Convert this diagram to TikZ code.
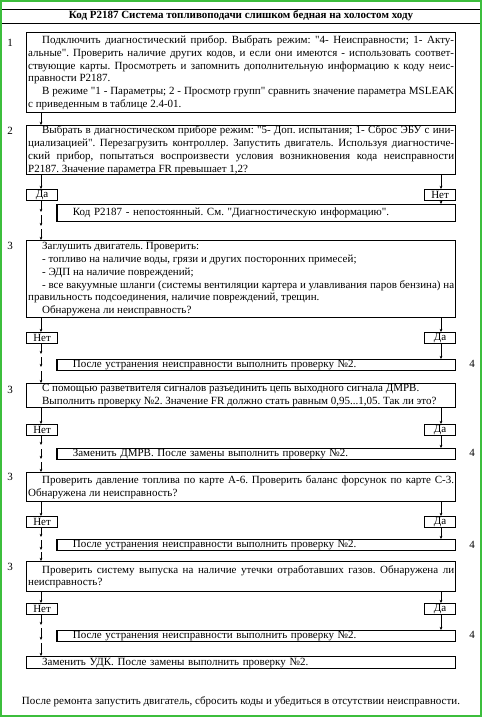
\documentclass[tikz,border=0pt]{standalone}
\usepackage{fontspec}
\setmainfont{Liberation Serif}[Ligatures=TeXOff]
\usetikzlibrary{arrows.meta}
\definecolor{frameg}{RGB}{60,190,60}
\frenchspacing
\newcommand{\ind}{\hspace*{14pt}}
\newcommand{\mysetpar}{\frenchspacing\tolerance=9999\relax\hbadness=10000\relax\hyphenpenalty=10000\relax}
\begin{document}
\begin{tikzpicture}[x=1pt,y=-1pt,
  every node/.style={font=\fontsize{11}{12.8}\selectfont\mysetpar},
  mainbox/.style={draw, line width=1.3pt, anchor=north west, inner xsep=1.5pt, inner ysep=0pt, text width=426pt, align=justify},
  resbox/.style={draw, line width=0.7pt, anchor=north west, inner xsep=1.5pt, inner ysep=0pt, text width=395pt, align=left},
  yn/.style={draw, line width=1.2pt, anchor=north west, inner sep=0pt, minimum width=31pt, minimum height=11pt},
  num/.style={inner sep=0pt},
  arr/.style={-{Stealth[length=3.2pt,width=2.8pt]}, line width=0.6pt}]
\useasboundingbox (0,0) rectangle (482,717);
\fill[white] (0,0) rectangle (482,717);
\draw[frameg, line width=2pt] (1,1) rectangle (481,716);
\draw[line width=0.8pt] (2,9) -- (480,9);
\draw[line width=0.8pt] (2,23) -- (480,23);
\node[font=\bfseries\fontsize{11}{12}\selectfont\frenchspacing] (title) at (241,16) {Код P2187 Система топливоподачи слишком бедная на холостом ходу};

% main boxes
\node[mainbox, minimum height=80pt] (b1) at (26,32) {\ind Подключить диагностический прибор. Выбрать режим: "4- Неисправности; 1- Акту-\linebreak альные". Проверить наличие других кодов, и если они имеются - использовать соответ-\linebreak ствующие карты. Просмотреть и запомнить дополнительную информацию к коду неис-\linebreak правности P2187.\par
\ind В режиме "1 - Параметры; 2 - Просмотр групп" сравнить значение параметра MSLEAK\linebreak с приведенным в таблице 2.4-01.};
\node[mainbox, minimum height=49pt] (b2) at (26,125) {\ind Выбрать в диагностическом приборе режим: "5- Доп. испытания; 1- Сброс ЭБУ с ини-\linebreak циализацией". Перезагрузить контроллер. Запустить двигатель. Используя диагностиче-\linebreak ский прибор, попытаться воспроизвести условия возникновения кода неисправности\linebreak P2187. Значение параметра FR превышает 1,2?};
\node[mainbox, minimum height=77pt] (b3) at (26,240) {\ind Заглушить двигатель. Проверить:\par
\ind - топливо на наличие воды, грязи и других посторонних примесей;\par
\ind - ЭДП на наличие повреждений;\par
\ind - все вакуумные шланги (системы вентиляции картера и улавливания паров бензина) на\linebreak правильность подсоединения, наличие повреждений, трещин.\par
\ind Обнаружена ли неисправность?};
\node[mainbox, minimum height=24pt] (b4) at (26,383) {\ind С помощью разветвителя сигналов разъединить цепь выходного сигнала ДМРВ.\par
\ind Выполнить проверку №2. Значение FR должно стать равным 0,95...1,05. Так ли это?};
\node[mainbox, minimum height=29pt] (b5) at (26,472) {\ind Проверить давление топлива по карте А-6. Проверить баланс форсунок по карте С-3.\linebreak Обнаружена ли неисправность?};
\node[mainbox, minimum height=30pt] (b6) at (26,561) {\ind Проверить систему выпуска на наличие утечки отработавших газов. Обнаружена ли\linebreak неисправность?};
\node[mainbox, minimum height=12pt, align=left] (b7) at (26,656) {\ind Заменить УДК. После замены выполнить проверку №2.};

% numbers
\node[num] (k1) at (10,43) {1};
\node[num] (k2) at (10,131) {2};
\node[num] (k3) at (10,246) {3};
\node[num] (k4) at (10,390) {3};
\node[num] (k5) at (10,477) {3};
\node[num] (k6) at (10,567) {3};
\node[num] (m3) at (472,364) {4};
\node[num] (m4) at (472,453) {4};
\node[num] (m5) at (472,545) {4};
\node[num] (m6) at (472,635) {4};

% yes/no labels
\node[yn] (l2) at (26,189) {Да};
\node[yn] (q2) at (424,189) {Нет};
\node[yn] (l3) at (26,332) {Нет};
\node[yn] (q3) at (424,332) {Да};
\node[yn] (l4) at (26,424) {Нет};
\node[yn] (q4) at (424,424) {Да};
\node[yn] (l5) at (26,516) {Нет};
\node[yn] (q5) at (424,516) {Да};
\node[yn] (l6) at (26,603) {Нет};
\node[yn] (q6) at (424,603) {Да};

% result boxes
\node[resbox, minimum height=17pt] (r2) at (57,204) {\ind Код P2187 - непостоянный. См. "Диагностическую информацию".};
\node[resbox, minimum height=11pt] (r3) at (57,359) {\ind После устранения неисправности выполнить проверку №2.};
\node[resbox, minimum height=11pt] (r4) at (57,448) {\ind Заменить ДМРВ. После замены выполнить проверку №2.};
\node[resbox, minimum height=11pt] (r5) at (57,539) {\ind После устранения неисправности выполнить проверку №2.};
\node[resbox, minimum height=11pt] (r6) at (57,630) {\ind После устранения неисправности выполнить проверку №2.};
\foreach \r in {r2,r3,r4,r5,r6}{
  \draw[line width=1.5pt] (\r.north west) -- (\r.south west);
  \draw[line width=1.5pt] (\r.north east) -- (\r.south east);
}

\node (foot) at (241,702) {После ремонта запустить двигатель, сбросить коды и убедиться в отсутствии неисправности.};

% connectors
\coordinate (L) at (41,0);
\coordinate (R) at (441,0);
\draw[arr] (b1.south -| L) -- (b2.north -| L);
% stage 2
\draw[arr] (b2.south -| L) -- (l2.north -| L);
\draw[arr] (b2.south -| R) -- (q2.north -| R);
\draw[arr] (q2.south -| R) -- (r2.north -| R);
\coordinate (a2a) at (41,212); \coordinate (a2b) at (41,215);
\coordinate (a2c) at (41,226); \coordinate (a2d) at (41,229);
\draw[arr] (l2.south -| L) -- (a2a);
\draw[arr] (a2b) -- (a2c);
\draw[arr] (a2d) -- (b3.north -| L);
% stage 3
\draw[arr] (b3.south -| L) -- (l3.north -| L);
\draw[arr] (b3.south -| R) -- (q3.north -| R);
\draw[arr] (q3.south -| R) -- (r3.north -| R);
\coordinate (a3a) at (41,354); \coordinate (a3b) at (41,357);
\coordinate (a3c) at (41,367); \coordinate (a3d) at (41,371);
\draw[arr] (l3.south -| L) -- (a3a);
\draw[arr] (a3b) -- (a3c);
\draw[arr] (a3d) -- (b4.north -| L);
% stage 4
\draw[arr] (b4.south -| L) -- (l4.north -| L);
\draw[arr] (b4.south -| R) -- (q4.north -| R);
\draw[arr] (q4.south -| R) -- (r4.north -| R);
\coordinate (a4a) at (41,445); \coordinate (a4b) at (41,449);
\coordinate (a4c) at (41,459); \coordinate (a4d) at (41,462);
\draw[arr] (l4.south -| L) -- (a4a);
\draw[arr] (a4b) -- (a4c);
\draw[arr] (a4d) -- (b5.north -| L);
% stage 5
\draw[arr] (b5.south -| L) -- (l5.north -| L);
\draw[arr] (b5.south -| R) -- (q5.north -| R);
\draw[arr] (q5.south -| R) -- (r5.north -| R);
\coordinate (a5a) at (41,537); \coordinate (a5b) at (41,540);
\coordinate (a5c) at (41,550); \coordinate (a5d) at (41,552);
\draw[arr] (l5.south -| L) -- (a5a);
\draw[arr] (a5b) -- (a5c);
\draw[arr] (a5d) -- (b6.north -| L);
% stage 6
\draw[arr] (b6.south -| L) -- (l6.north -| L);
\draw[arr] (b6.south -| R) -- (q6.north -| R);
\draw[arr] (q6.south -| R) -- (r6.north -| R);
\coordinate (a6a) at (41,625); \coordinate (a6b) at (41,628);
\coordinate (a6c) at (41,640); \coordinate (a6d) at (41,643);
\draw[arr] (l6.south -| L) -- (a6a);
\draw[arr] (a6b) -- (a6c);
\draw[arr] (a6d) -- (b7.north -| L);
\end{tikzpicture}
\end{document}
